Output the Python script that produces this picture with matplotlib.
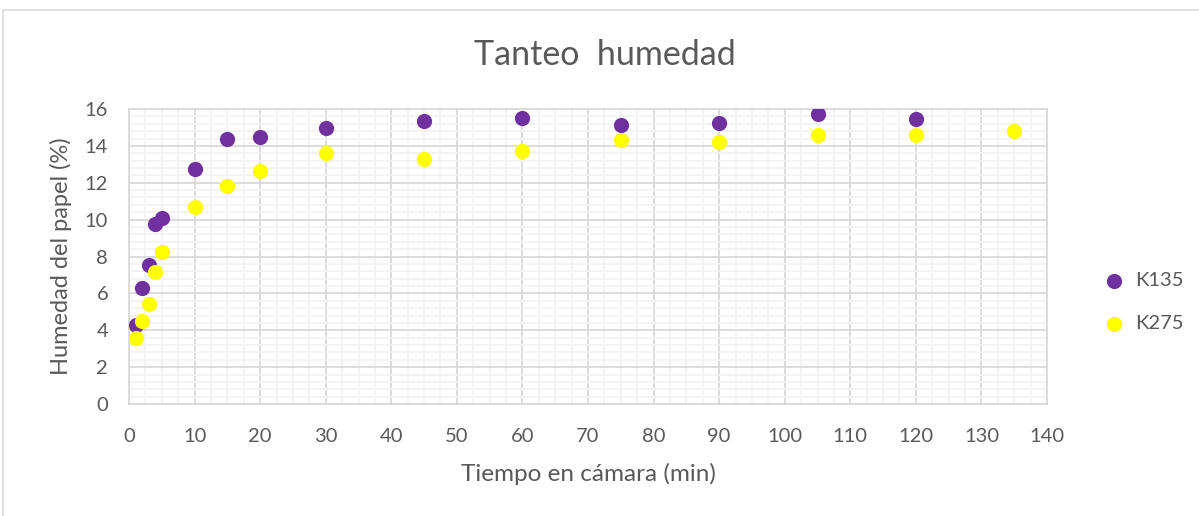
import matplotlib
matplotlib.use("Agg")
import matplotlib.pyplot as plt
from matplotlib.patches import Rectangle
from matplotlib.ticker import MultipleLocator

# data
tiempo_k135 = [1, 2, 3, 4, 5, 10, 15, 20, 30, 45, 60, 75, 90, 105, 120]
humedad_k135 = [4.28, 6.28, 7.52, 9.75, 10.1, 12.74, 14.35, 14.46, 14.95,
                15.37, 15.49, 15.11, 15.26, 15.74, 15.46]
tiempo_k275 = [1, 2, 3, 4, 5, 10, 15, 20, 30, 45, 60, 75, 90, 105, 120, 135]
humedad_k275 = [3.56, 4.52, 5.42, 7.18, 8.22, 10.67, 11.82, 12.62, 13.6,
                13.3, 13.72, 14.33, 14.19, 14.57, 14.57, 14.8]

plt.rcParams['font.family'] = ['Lato', 'DejaVu Sans']
gris = '#595959'

fig = plt.figure(figsize=(11.99, 5.16), dpi=100)
ax = fig.add_axes([129 / 1199, 1 - 404 / 516, (1047 - 129) / 1199, (404 - 109) / 516])

# outer chart border
fig.patches.append(Rectangle((3 / 1199, -0.01), 1.0, 1 - 10 / 516 + 0.01,
                             transform=fig.transFigure, fill=False,
                             edgecolor='#D9D9D9', linewidth=1.2))

ax.scatter(tiempo_k135, humedad_k135, s=120, color='#7030A0', label='K135', zorder=3,
           linewidths=0)
ax.scatter(tiempo_k275, humedad_k275, s=120, color='#FFFF00', label='K275', zorder=4,
           linewidths=0)

ax.set_xlim(0, 140)
ax.set_ylim(0, 16)
ax.xaxis.set_major_locator(MultipleLocator(10))
ax.xaxis.set_minor_locator(MultipleLocator(2.5))
ax.yaxis.set_major_locator(MultipleLocator(2))
ax.yaxis.set_minor_locator(MultipleLocator(0.4))
ax.grid(which='minor', color='#F2F2F2', linewidth=1.3, zorder=0)
ax.grid(which='major', color='#D9D9D9', linewidth=1.3, zorder=1)
ax.set_axisbelow(True)
for s in ax.spines.values():
    s.set_color('#D9D9D9')
    s.set_linewidth(1.3)
ax.tick_params(which='both', length=0, labelsize=14.5, colors=gris)
ax.tick_params(axis='x', pad=17)
ax.tick_params(axis='y', pad=15)

fig.text(605 / 1199, 1 - 55 / 516, 'Tanteo  humedad', fontsize=24.5, color=gris,
         ha='center', va='center')
ax.set_xlabel('Tiempo en cámara (min)', fontsize=17.5, color=gris, labelpad=13)
ax.set_ylabel('Humedad del papel (%)', fontsize=17, color=gris, labelpad=9)

ax.legend(loc='center left', bbox_to_anchor=(1.031, 0.345), frameon=False,
          fontsize=14.5, labelcolor=gris, handletextpad=0.05, labelspacing=1.3,
          markerscale=1.0)

fig.savefig('out.png', dpi=100)
